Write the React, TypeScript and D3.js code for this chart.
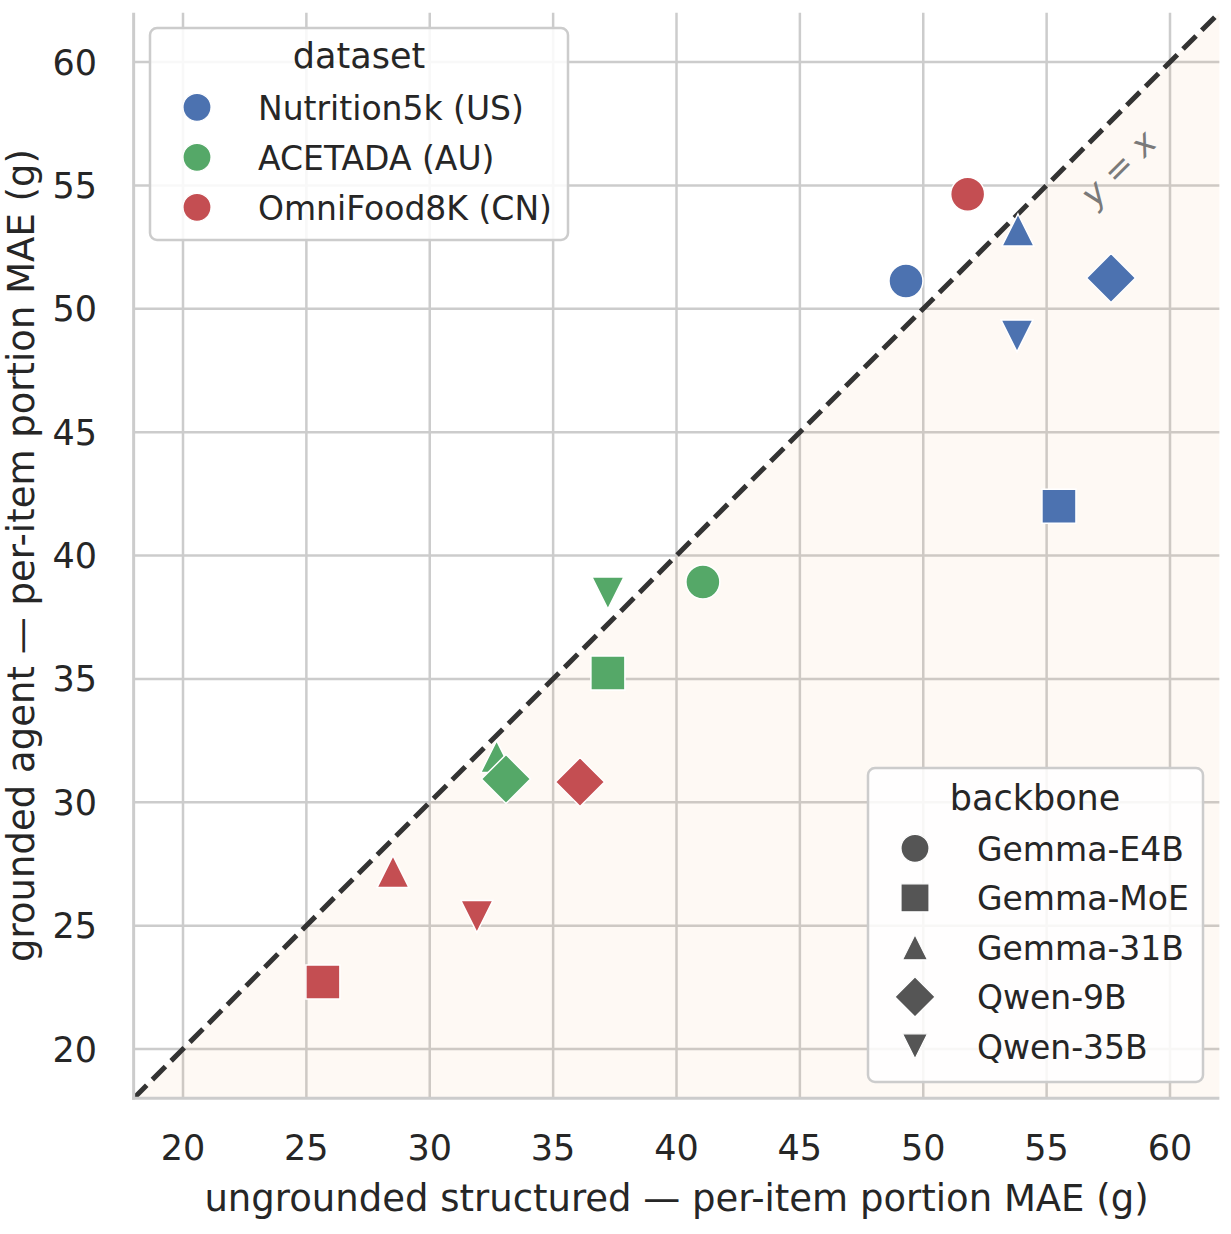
import React from "react";
import * as d3 from "d3";

// ---- data ----
const datasets = ["Nutrition5k (US)", "ACETADA (AU)", "OmniFood8K (CN)"];
const datasetColors = ["#4c72b0", "#55a868", "#c44e52"];
const backbones = ["Gemma-E4B", "Gemma-MoE", "Gemma-31B", "Qwen-9B", "Qwen-35B"];

// ungrounded structured MAE (x) per dataset, in backbone order
const ungroundedUS = [49.3, 55.5, 53.84, 57.61, 53.8];
const ungroundedAU = [41.07, 37.22, 32.71, 33.09, 37.22];
const ungroundedCN = [51.8, 25.67, 28.51, 36.09, 31.91];
// grounded agent MAE (y)
const groundedUS = [51.12, 42.0, 53.19, 51.25, 48.9];
const groundedAU = [38.93, 35.24, 31.85, 30.94, 38.48];
const groundedCN = [54.64, 22.72, 27.19, 30.82, 25.37];

const xTicks = [20, 25, 30, 35, 40, 45, 50, 55, 60];
const yTicks = [20, 25, 30, 35, 40, 45, 50, 55, 60];
const domain: [number, number] = [18, 62];

const W = 1231;
const H = 1234;
const left = 133.65, right = 1219.35, top = 12.65, bottom = 1098.35;

const FONT = "'DejaVu Sans', sans-serif";
const TEXT = "#262626";
const GRID = "#cccccc";

// custom marker shapes (size = width^2)
const shapeCircle = { draw(ctx: any, size: number) { const r = Math.sqrt(size) / 2; ctx.moveTo(r, 0); ctx.arc(0, 0, r, 0, 2 * Math.PI); } };
const shapeSquare = { draw(ctx: any, size: number) { const h = Math.sqrt(size) / 2; ctx.rect(-h, -h, 2 * h, 2 * h); } };
const shapeTriUp = { draw(ctx: any, size: number) { const h = Math.sqrt(size) / 2; ctx.moveTo(0, -h); ctx.lineTo(h, h); ctx.lineTo(-h, h); ctx.closePath(); } };
const shapeTriDown = { draw(ctx: any, size: number) { const h = Math.sqrt(size) / 2; ctx.moveTo(0, h); ctx.lineTo(h, -h); ctx.lineTo(-h, -h); ctx.closePath(); } };
const shapeDiamond = { draw(ctx: any, size: number) { const h = Math.sqrt(size) / 2; ctx.moveTo(0, -h); ctx.lineTo(h, 0); ctx.lineTo(0, h); ctx.lineTo(-h, 0); ctx.closePath(); } };

const shapes = [shapeCircle, shapeSquare, shapeTriUp, shapeDiamond, shapeTriDown];
const plotSizes = [34, 34, 32, 49, 32];
const legendSizes = [28, 28, 25, 40, 25];

export default function App() {
  const x = d3.scaleLinear().domain(domain).range([left, right]);
  const y = d3.scaleLinear().domain(domain).range([bottom, top]);

  const xs = [ungroundedUS, ungroundedAU, ungroundedCN];
  const ys = [groundedUS, groundedAU, groundedCN];

  const points: { px: number; py: number; color: string; b: number }[] = [];
  datasets.forEach((_, di) => {
    backbones.forEach((_, bi) => {
      points.push({ px: x(xs[di][bi]), py: y(ys[di][bi]), color: datasetColors[di], b: bi });
    });
  });

  const sym = (bi: number, w: number) => d3.symbol().type(shapes[bi] as any).size(w * w)() as string;

  const shade = d3.line<[number, number]>().x((d) => x(d[0])).y((d) => y(d[1]))([
    [domain[0], domain[0]],
    [domain[1], domain[1]],
    [domain[1], domain[0]],
  ]) + "Z";

  const diag = d3.line<[number, number]>().x((d) => x(d[0])).y((d) => y(d[1]))([
    [domain[0], domain[0]],
    [domain[1], domain[1]],
  ]) as string;

  const lx = 57.9, ly = 55.7;

  return (
    <svg width={W} height={H} style={{ position: "absolute", left: 0, top: 0, display: "block", background: "#fff" }} fontFamily={FONT}>
      <defs>
        <clipPath id="plotclip">
          <rect x={left} y={top} width={right - left} height={bottom - top} />
        </clipPath>
      </defs>
      {/* grid */}
      {xTicks.map((t) => (
        <line key={"gx" + t} x1={x(t)} x2={x(t)} y1={top} y2={bottom} stroke={GRID} strokeWidth={2.5} />
      ))}
      {yTicks.map((t) => (
        <line key={"gy" + t} x1={left} x2={right} y1={y(t)} y2={y(t)} stroke={GRID} strokeWidth={2.5} />
      ))}
      {/* shaded region below diagonal */}
      <path d={shade} fill="#f4a460" fillOpacity={0.07} />
      {/* y = x line */}
      <path d={diag} stroke="#333333" strokeWidth={5} strokeDasharray="18.5 8" fill="none" clipPath="url(#plotclip)" />
      {/* points */}
      {points.map((p, i) => (
        <path key={"p" + i} d={sym(p.b, plotSizes[p.b])} transform={`translate(${p.px},${p.py})`} fill={p.color} stroke="#ffffff" strokeWidth={1.5} />
      ))}
      {/* y=x label */}
      <text x={x(lx)} y={y(ly)} transform={`rotate(-45 ${x(lx)} ${y(ly)})`} textAnchor="middle" dy="0.35em" fontSize={34} fill="#7a7a7a">
        <tspan fontStyle="italic">y</tspan>
        <tspan> = </tspan>
        <tspan fontStyle="italic">x</tspan>
      </text>
      {/* spines */}
      <line x1={left} x2={left} y1={top} y2={bottom + 1.5} stroke={GRID} strokeWidth={3} />
      <line x1={left - 1.5} x2={right} y1={bottom} y2={bottom} stroke={GRID} strokeWidth={3} />
      {/* tick labels */}
      {xTicks.map((t) => (
        <text key={"xt" + t} x={x(t)} y={1160} textAnchor="middle" fontSize={35} fill={TEXT}>{t}</text>
      ))}
      {yTicks.map((t) => (
        <text key={"yt" + t} x={97} y={y(t)} dy="0.36em" textAnchor="end" fontSize={35} fill={TEXT}>{t}</text>
      ))}
      {/* axis labels */}
      <text x={(left + right) / 2} y={1211} textAnchor="middle" fontSize={37} fill={TEXT}>
        ungrounded structured — per-item portion MAE (g)
      </text>
      <text x={34} y={(top + bottom) / 2} transform={`rotate(-90 34 ${(top + bottom) / 2})`} textAnchor="middle" fontSize={37} fill={TEXT}>
        grounded agent — per-item portion MAE (g)
      </text>
      {/* dataset legend */}
      <g>
        <rect x={150} y={28} width={418} height={212} rx={7} fill="#ffffff" fillOpacity={0.85} stroke={GRID} strokeWidth={2.5} />
        <text x={359} y={68} textAnchor="middle" fontSize={35} fill={TEXT}>dataset</text>
        {datasets.map((d, i) => (
          <g key={"ld" + i}>
            <path d={sym(0, legendSizes[0])} transform={`translate(197,${107.3 + 50 * i})`} fill={datasetColors[i]} stroke="#ffffff" strokeWidth={1.2} />
            <text x={258} y={107.3 + 50 * i} dy="0.37em" fontSize={33} fill={TEXT}>{d}</text>
          </g>
        ))}
      </g>
      {/* backbone legend */}
      <g>
        <rect x={868} y={768} width={335} height={314} rx={7} fill="#ffffff" fillOpacity={0.85} stroke={GRID} strokeWidth={2.5} />
        <text x={1035} y={810} textAnchor="middle" fontSize={35} fill={TEXT}>backbone</text>
        {backbones.map((b, i) => (
          <g key={"lb" + i}>
            <path d={sym(i, legendSizes[i])} transform={`translate(915,${848.3 + 49.5 * i})`} fill="#555555" stroke="#ffffff" strokeWidth={1.2} />
            <text x={977} y={848.3 + 49.5 * i} dy="0.37em" fontSize={33} fill={TEXT}>{b}</text>
          </g>
        ))}
      </g>
    </svg>
  );
}
